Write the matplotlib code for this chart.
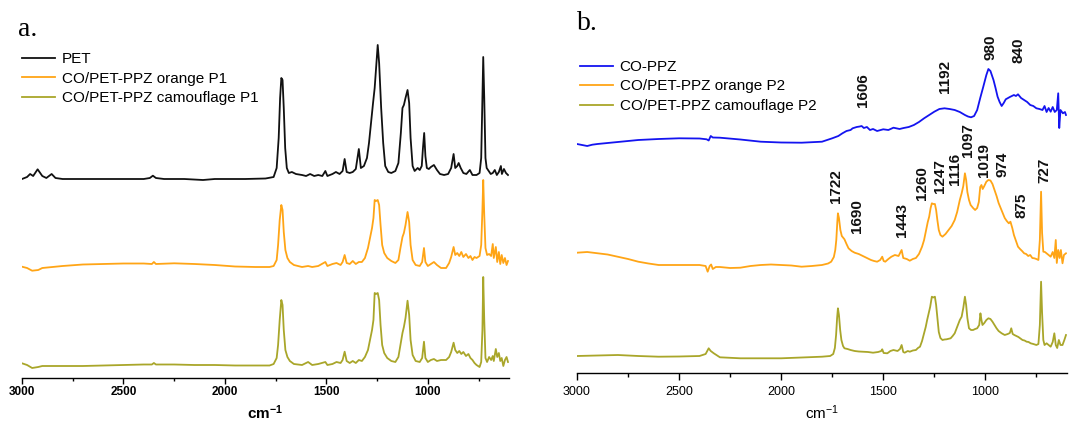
import matplotlib
matplotlib.use("Agg")
import matplotlib.pyplot as plt
from matplotlib.ticker import MultipleLocator

plt.rcParams["font.family"] = ["Liberation Sans", "DejaVu Sans"]
plt.rcParams["mathtext.fontset"] = "custom"
plt.rcParams["mathtext.rm"] = "Liberation Sans"
plt.rcParams["mathtext.bf"] = "Liberation Sans:bold"

# ---- panel a: PET and the two P1 samples (offset, arbitrary units) ----
pet_wn = [3000, 2975, 2960, 2945, 2923, 2900, 2880, 2854, 2835, 2800, 2600, 2400, 2370, 2355, 2340,
          2300, 2200, 2108, 2050, 1900, 1800, 1760, 1745, 1735, 1728, 1722, 1716, 1710, 1703, 1695,
          1685, 1670, 1650, 1620, 1600, 1580, 1560, 1540, 1520, 1505, 1495, 1470, 1453, 1435, 1420,
          1410, 1400, 1385, 1370, 1355, 1340, 1330, 1315, 1300, 1290, 1280, 1270, 1262, 1255, 1247,
          1240, 1230, 1220, 1210, 1195, 1180, 1160, 1145, 1133, 1125, 1118, 1110, 1100, 1092, 1085,
          1075, 1065, 1050, 1040, 1030, 1024, 1018, 1012, 1005, 995, 985, 970, 955, 940, 920,
          900, 885, 873, 865, 855, 848, 838, 825, 810, 793, 780, 760, 745, 737, 731,
          727, 722, 716, 710, 700, 690, 680, 670, 660, 650, 640, 635, 625, 615, 605]
pet_abs = [199, 201, 204, 202, 208.7, 202, 200, 204, 200, 199, 199, 199, 200, 202.3, 200,
           199, 199, 198, 199, 199, 199.5, 201, 210, 240, 280, 300, 298, 270, 230, 210,
           205, 206, 204, 203, 202, 204, 202, 203, 202, 207, 202, 204, 206, 204, 207,
           219, 206, 205, 206, 209, 229, 210, 212, 220, 235, 255, 275, 290, 310, 333,
           315, 270, 235, 212, 206, 205, 207, 215, 245, 270, 273, 280, 288, 275, 240,
           212, 207, 210, 208, 212, 230, 245, 222, 210, 209, 211, 213, 208, 204, 203,
           204, 210, 224, 210, 212, 215, 210, 205, 204, 208, 203, 203, 205, 220, 280,
           321, 280, 220, 210, 207, 204, 205, 208, 203, 206, 212, 204, 209, 205, 203]

p1_wn = [3000, 2975, 2950, 2920, 2900, 2850, 2800, 2700, 2600, 2500, 2400, 2360, 2350, 2340, 2250,
         2150, 2050, 1950, 1850, 1780, 1760, 1745, 1738, 1730, 1722, 1716, 1710, 1702, 1692, 1680,
         1660, 1620, 1590, 1570, 1540, 1505, 1495, 1470, 1450, 1430, 1420, 1410, 1400, 1385, 1370,
         1355, 1340, 1325, 1310, 1295, 1285, 1275, 1268, 1262, 1255, 1247, 1240, 1233, 1225, 1215,
         1200, 1180, 1160, 1145, 1135, 1125, 1118, 1110, 1100, 1092, 1085, 1075, 1060, 1040, 1028,
         1019, 1012, 1000, 985, 970, 955, 935, 910, 895, 885, 873, 865, 855, 845, 835,
         825, 812, 800, 790, 780, 770, 760, 745, 737, 731, 727, 722, 716, 708, 698,
         688, 680, 675, 665, 658, 650, 643, 636, 628, 620, 612, 605]
orange_p1 = [111.3, 110, 107.3, 108, 110, 111, 112, 113.5, 114, 114.5, 114.5, 114, 116, 114, 114.7,
             114, 113, 111.5, 111, 111, 112, 118, 133, 158, 173, 168, 146, 128, 120, 116,
             113, 111, 112, 111, 112, 116, 112, 114, 115, 113, 116, 123, 115, 114, 117,
             114, 116, 116, 120, 130, 140, 150, 160, 178, 177, 178, 173, 153, 133, 125,
             120, 117, 115, 118, 130, 141, 145, 153, 166, 156, 133, 118, 113, 112, 116,
             130, 116, 112, 114, 116, 113, 110, 110, 115, 121, 131, 123, 125, 122, 126,
             121, 124, 120, 122, 118, 121, 120, 122, 133, 168, 198, 163, 130, 123, 124,
             122, 134, 120, 131, 116, 126, 114, 123, 115, 120, 113, 117]
camo_p1 = [14.7, 13, 10, 11, 12, 12, 12, 12, 12.5, 13, 13.5, 13.5, 15, 13.5, 13.5,
           13, 13, 12.5, 12.5, 12.5, 14, 20, 33, 58, 78, 73, 48, 28, 21, 17,
           14, 13, 16, 13, 14, 16, 13, 14, 16, 15, 18, 26.3, 17, 15, 17,
           15, 18, 17, 21, 28, 38, 48, 58, 85, 84, 85, 78, 53, 33, 25,
           20, 17, 16, 21, 33, 45, 51, 60, 77.3, 63, 38, 23, 17, 16, 20,
           36.3, 20, 16, 18, 19, 17, 18, 18, 21, 26, 35.3, 28, 25, 27, 24,
           26, 22, 24, 20, 18, 15, 13, 11, 16, 48, 101, 58, 20, 16, 21,
           18, 22, 17, 29, 21, 25, 17, 20, 12, 18, 21, 16]

# ---- panel b: CO-PPZ and the two P2 samples ----
coppz_wn = [3000, 2975, 2950, 2925, 2900, 2800, 2700, 2600, 2500, 2400, 2365, 2355, 2345, 2335, 2300,
            2200, 2100, 2000, 1900, 1800, 1750, 1720, 1700, 1680, 1660, 1650, 1630, 1615, 1606, 1595,
            1580, 1565, 1550, 1530, 1500, 1475, 1450, 1420, 1400, 1375, 1350, 1325, 1300, 1275, 1250,
            1225, 1200, 1175, 1150, 1125, 1100, 1085, 1070, 1055, 1040, 1025, 1010, 995, 985, 975,
            960, 950, 940, 930, 920, 910, 900, 880, 860, 850, 840, 825, 810, 795, 780,
            765, 750, 735, 720, 710, 700, 690, 680, 670, 660, 650, 643, 638, 632, 620,
            610, 605]
coppz = [229, 228, 227, 228.3, 229, 231, 233, 234, 234.7, 234.5, 233.7, 232.5, 237, 235.5, 235.3,
         233.5, 231.3, 230.5, 230.3, 231.3, 234.7, 237, 239.7, 242, 243, 244.7, 246, 246.5, 247, 245,
         246, 243, 244, 242, 243.7, 243, 245.3, 244, 245, 246, 248, 251, 254.7, 258, 261.3,
         264, 264.7, 264, 263, 261, 258, 256.5, 255.7, 257, 263, 275, 286.3, 298, 304, 302,
         293, 285, 276.3, 271, 267, 270, 273.7, 276, 278, 277, 278.7, 275, 273, 271, 268,
         267, 264.7, 264, 263, 267, 261, 265, 261.3, 266, 261, 263, 279.7, 245, 263, 259.7,
         261, 258]

p2_wn = [3000, 2950, 2900, 2850, 2800, 2750, 2700, 2650, 2600, 2500, 2400, 2370, 2360, 2350, 2343,
         2335, 2320, 2300, 2250, 2200, 2150, 2100, 2050, 2000, 1950, 1900, 1850, 1800, 1770, 1755,
         1742, 1735, 1730, 1725, 1722, 1717, 1710, 1703, 1697, 1690, 1680, 1670, 1655, 1640, 1620,
         1600, 1580, 1560, 1545, 1530, 1515, 1505, 1498, 1490, 1475, 1460, 1443, 1425, 1410, 1402,
         1385, 1370, 1355, 1340, 1325, 1310, 1300, 1290, 1282, 1275, 1268, 1262, 1255, 1247, 1241,
         1235, 1228, 1220, 1210, 1195, 1180, 1165, 1150, 1138, 1125, 1116, 1108, 1100, 1094, 1088,
         1080, 1072, 1060, 1050, 1040, 1032, 1025, 1019, 1013, 1005, 995, 985, 975, 965, 955,
         945, 935, 925, 915, 905, 895, 885, 877, 868, 860, 850, 840, 830, 820, 810,
         800, 790, 780, 770, 760, 750, 740, 733, 727, 722, 716, 708, 700, 690, 680,
         670, 662, 655, 650, 643, 636, 630, 622, 615, 605]
orange_p2 = [120.3, 121, 119.7, 118.5, 116.3, 114, 111.3, 109.5, 108, 108, 108, 107, 101.3, 107, 108.5,
             104, 106, 106, 105, 105.3, 107, 108, 108.5, 108, 107.5, 106.3, 107, 108, 109.5, 111.3,
             116, 123, 133, 151, 159.7, 155, 143, 137, 135.5, 133.7, 129, 124.7, 122, 120.3, 119,
             117, 115, 113, 112, 111.3, 113, 116.3, 112, 111.3, 114, 116.3, 118, 117, 123, 115,
             114, 112.3, 114, 115, 119, 126.3, 133, 143, 151, 156.3, 165, 169.7, 169, 169, 163,
             153, 143, 138, 136.3, 139, 143, 147, 153, 161, 173, 179.7, 187, 199.7, 193, 181,
             173, 168, 165, 163, 165, 171, 186, 188, 184, 187, 191.3, 193, 192.5, 189, 183,
             177, 170, 165, 160, 155, 152, 149.7, 151.3, 145, 138, 132, 126.3, 124, 122, 119.7,
             119, 117, 118, 115, 114.7, 114, 113, 133, 181.3, 140, 121.3, 121, 119.7, 118, 116.3,
             121, 115, 133, 110, 123, 115, 123, 109.7, 118, 119.7]

camo_wn = [3000, 2900, 2800, 2700, 2600, 2500, 2400, 2370, 2355, 2345, 2330, 2310, 2300, 2200, 2100,
           2000, 1900, 1800, 1760, 1745, 1737, 1731, 1726, 1722, 1717, 1711, 1705, 1697, 1690, 1675,
           1660, 1640, 1620, 1600, 1575, 1550, 1525, 1510, 1505, 1498, 1480, 1465, 1450, 1430, 1418,
           1410, 1402, 1395, 1380, 1370, 1355, 1340, 1330, 1320, 1310, 1300, 1292, 1285, 1277, 1270,
           1262, 1255, 1247, 1241, 1235, 1228, 1220, 1210, 1200, 1190, 1170, 1160, 1150, 1138, 1125,
           1116, 1108, 1100, 1094, 1088, 1080, 1070, 1060, 1050, 1040, 1030, 1024, 1019, 1014, 1005,
           995, 985, 975, 965, 955, 945, 935, 920, 905, 890, 880, 873, 866, 858, 848,
           838, 828, 818, 808, 798, 788, 778, 765, 750, 740, 733, 727, 722, 716, 710,
           700, 690, 680, 670, 662, 655, 648, 640, 632, 622, 613, 605]
camo_p2 = [17, 17.5, 18, 17, 16.3, 16.5, 17, 19, 24.7, 22, 19.7, 17, 15.7, 14.7, 14.7,
           14.7, 15.5, 16.3, 17, 19, 25, 38, 55, 64.7, 58, 43, 33, 27, 24.7, 24,
           23, 22, 21.5, 21.3, 21, 20.3, 21, 22, 23.7, 20, 19.7, 22, 23, 22, 24,
           28, 21, 20.3, 22, 21.3, 22.5, 23, 25, 26.3, 32, 39.7, 46, 53, 60, 66.3,
           76.3, 75.5, 76.3, 68, 55, 41, 35, 33, 33.5, 33.7, 34.7, 37, 39.7, 46, 53,
           56.3, 65, 76.3, 68, 55, 44.7, 43, 43, 44, 44.7, 48, 59.7, 53, 48, 50,
           53, 54.7, 54, 51.3, 48, 44.7, 42, 39.7, 38, 39, 40, 44.7, 39, 38, 37,
           36, 34.5, 33, 32.5, 31.3, 31, 29.7, 29, 28, 29, 48, 91.3, 60, 33, 28,
           29.7, 28, 26.3, 31, 39.7, 28, 25, 33, 28, 28, 33, 38]

# band assignments written above the P2 / CO-PPZ traces
band_labels = ["1606", "1192", "980", "840", "1722", "1690", "1443", "1260",
               "1247", "1116", "1097", "1019", "974", "875", "727"]
band_x = [1597, 1196, 975, 838, 1732, 1629, 1408, 1310, 1221, 1147, 1087, 1008, 918, 824, 711]
band_y = [266, 280, 313, 310, 170, 140, 136, 173, 180, 188, 216, 196, 196, 155, 190]

c_black = "#111111"
c_orange = "#FFA516"
c_camo = "#A9A62A"
c_blue = "#1414F0"

fig = plt.figure(figsize=(10.69, 4.23), dpi=100)
ax_a = fig.add_axes([22 / 1069, 45 / 423, 487 / 1069, 338 / 423])
ax_b = fig.add_axes([577 / 1069, 50 / 423, 490 / 1069, 333 / 423])

lw = 1.3
ax_a.plot(pet_wn, pet_abs, color=c_black, lw=lw, label="PET")
ax_a.plot(p1_wn, orange_p1, color=c_orange, lw=lw, label="CO/PET-PPZ orange P1")
ax_a.plot(p1_wn, camo_p1, color=c_camo, lw=lw, label="CO/PET-PPZ camouflage P1")
ax_a.set_ylim(0, 338)

ax_b.plot(coppz_wn, coppz, color=c_blue, lw=lw, label="CO-PPZ")
ax_b.plot(p2_wn, orange_p2, color=c_orange, lw=lw, label="CO/PET-PPZ orange P2")
ax_b.plot(camo_wn, camo_p2, color=c_camo, lw=lw, label="CO/PET-PPZ camouflage P2")
ax_b.set_ylim(0, 333)

for lab, x, y in zip(band_labels, band_x, band_y):
    ax_b.text(x, y, lab, rotation=90, ha="center", va="bottom",
              fontsize=11, fontweight="bold", color="#111111")

for ax in (ax_a, ax_b):
    ax.set_xlim(3000, 600)
    for s in ("left", "right", "top"):
        ax.spines[s].set_visible(False)
    ax.spines["bottom"].set_linewidth(1.0)
    ax.set_yticks([])
    ax.xaxis.set_major_locator(MultipleLocator(500))
    ax.xaxis.set_minor_locator(MultipleLocator(250))
    ax.patch.set_alpha(0)

ax_a.tick_params(axis="x", which="major", length=4, width=1.0, pad=1.5, labelsize=8.5)
ax_a.tick_params(axis="x", which="minor", length=2.5, width=1.0)
for t in ax_a.get_xticklabels():
    t.set_fontweight("bold")
ax_a.set_xlabel(r"$\mathbf{cm^{-1}}$", fontsize=11)
ax_a.xaxis.set_label_coords(0.5, -0.075)

ax_b.tick_params(axis="x", which="major", length=5, width=1.0, pad=4, labelsize=9)
ax_b.tick_params(axis="x", which="minor", length=3, width=1.0)
ax_b.set_xlabel(r"$\mathrm{cm^{-1}}$", fontsize=11)
ax_b.xaxis.set_label_coords(0.5, -0.092)

leg_kw = dict(loc="upper left", frameon=False, fontsize=11, borderpad=0, borderaxespad=0,
              handlelength=2.15, handletextpad=0.45, labelspacing=0.36)
ax_a.legend(bbox_to_anchor=(0.0, 0.964), **leg_kw)
ax_b.legend(bbox_to_anchor=(0.006, 0.94), **leg_kw)

fig.text(18 / 1069, 1 - 30 / 423, "a.", fontsize=20, family="Liberation Serif", va="center")
fig.text(577 / 1069, 1 - 23 / 423, "b.", fontsize=20, family="Liberation Serif", va="center")

fig.savefig("out.png", dpi=100)
